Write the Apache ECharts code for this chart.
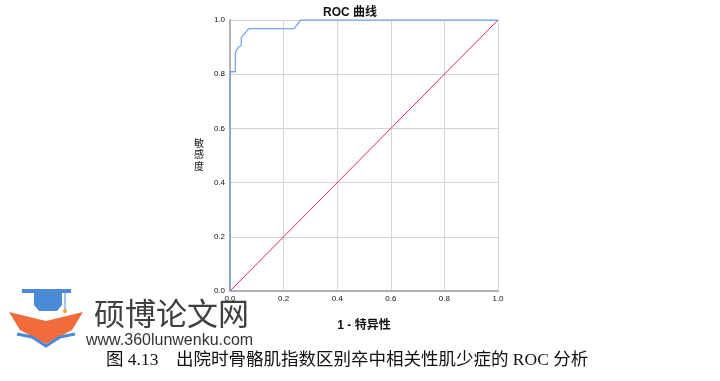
<!DOCTYPE html>
<html><head><meta charset="utf-8">
<script src="https://cdn.jsdelivr.net/npm/echarts@6/dist/echarts.min.js"></script>
<style>html,body{margin:0;padding:0;background:#fff}#c{width:720px;height:381px}</style>
</head><body><div id="c"></div>
<script>
var rocFpr = [0, 0, 0, 0.020, 0.020, 0.025, 0.032, 0.032, 0.042, 0.042, 0.070, 0.239, 0.264, 1.0];
var rocTpr = [0, 0.72, 0.809, 0.809, 0.877, 0.889, 0.901, 0.901, 0.905, 0.935, 0.968, 0.968, 1.0, 1.0];
var refFpr = [0, 1];
var refTpr = [0, 1];
var tickValues = [0, 0.2, 0.4, 0.6, 0.8, 1.0];
var titleText = 'ROC 曲线';
var xName = '1 - 特异性';
var yName = '敏感度';
var caption = '图 4.13\u3000出院时骨骼肌指数区别卒中相关性肌少症的 ROC 分析';
var siteName = '硕博论文网';
var siteUrl = 'www.360lunwenku.com';

var rocData = rocFpr.map(function (x, i) { return [x, rocTpr[i]]; });
var refData = refFpr.map(function (x, i) { return [x, refTpr[i]]; });

var chart = echarts.init(document.getElementById('c'));
var axisCommon = {
  type: 'value', min: 0, max: 1, interval: 0.2,
  axisLine: { show: true, lineStyle: { color: '#b0b0b0', width: 2 } },
  axisTick: { show: false },
  splitLine: { show: true, lineStyle: { color: '#d4d4d4', width: 1 } },
  axisLabel: { fontSize: 8, color: '#111', fontFamily: 'Liberation Sans',
    formatter: function (v) { return v.toFixed(1); } }
};
chart.setOption({
  animation: false,
  backgroundColor: '#fff',
  grid: { left: 230, right: 222, top: 20, bottom: 90, show: false },
  title: { text: titleText, left: 318, top: 2,
    textStyle: { fontSize: 12, fontWeight: 'bold', color: '#111', fontFamily: 'Liberation Sans, Noto Sans CJK SC' } },
  xAxis: Object.assign({}, axisCommon, {
    name: xName, nameLocation: 'middle', nameGap: 29,
    nameTextStyle: { fontSize: 12, fontWeight: 'bold', color: '#111', fontFamily: 'Liberation Sans, Noto Sans CJK SC' },
    axisLabel: Object.assign({}, axisCommon.axisLabel, { margin: 4 })
  }),
  yAxis: Object.assign({}, axisCommon, {
    axisLabel: Object.assign({}, axisCommon.axisLabel, { margin: 5 })
  }),
  series: [
    { type: 'line', data: refData, symbol: 'none', lineStyle: { color: '#e8245c', width: 1 }, z: 3 },
    { type: 'line', data: rocData, symbol: 'none', lineStyle: { color: '#78a4e4', width: 1.3 }, z: 4 }
  ],
  graphic: [
    { type: 'text', left: 194, top: 137, style: { text: yName.split('').join('\n'), fontSize: 10, lineHeight: 11.5,
      fill: '#111', fontFamily: 'Noto Sans CJK SC' } },
    // watermark logo
    { type: 'rect', shape: { x: 22, y: 289, width: 49, height: 4 }, style: { fill: '#4a8ad6' } },
    { type: 'polygon', shape: { points: [[34,293],[62,293],[62,305],[57,311],[39,311],[34,305]] }, style: { fill: '#4a8ad6' } },
    { type: 'line', shape: { x1: 65, y1: 292, x2: 65, y2: 309 }, style: { stroke: '#4a8ad6', lineWidth: 1 } },
    { type: 'circle', shape: { cx: 65, cy: 311, r: 2 }, style: { fill: '#f5a623' } },
    { type: 'polygon', shape: { points: [[9,312],[46,321],[83,312],[72,330],[46,344],[20,330]] }, style: { fill: '#f26b3a' } },
    { type: 'polyline', shape: { points: [[17,334],[32,337],[46,346],[60,337],[75,334]] }, style: { stroke: '#4a8ad6', lineWidth: 3, fill: null } },
    { type: 'text', left: 94, top: 298, style: { text: siteName, fontSize: 31, fill: '#404040', fontFamily: 'Noto Sans CJK SC' } },
    { type: 'text', left: 86, top: 333, style: { text: siteUrl, fontSize: 16, fill: '#333', fontFamily: 'Liberation Sans' } },
    { type: 'text', left: 106, top: 352, style: { text: caption, fontSize: 17.5, fill: '#111', fontFamily: 'Liberation Serif, Noto Sans CJK SC' } }
  ]
});
</script></body></html>
